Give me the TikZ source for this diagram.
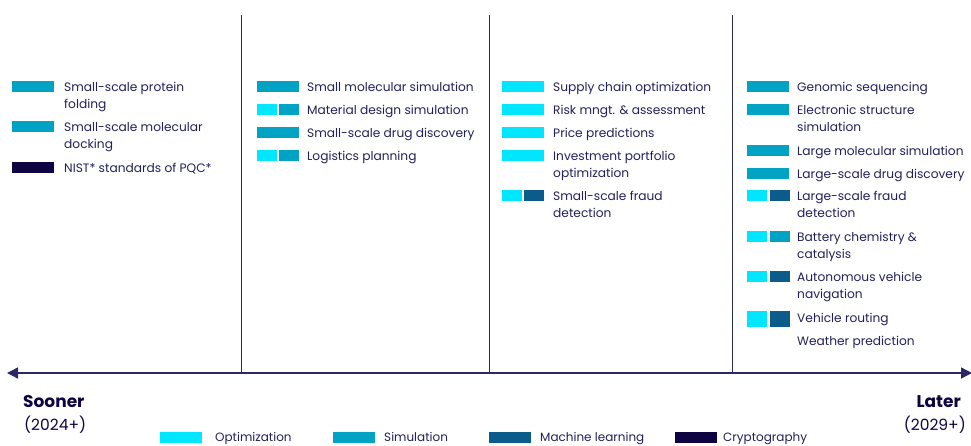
\documentclass[tikz,border=0pt]{standalone}
\usepackage{fontspec}
\setmainfont{Poppins}
\usetikzlibrary{arrows.meta}
\definecolor{optim}{HTML}{00E6FF}
\definecolor{simul}{HTML}{00A3C4}
\definecolor{mlearn}{HTML}{0B5C8A}
\definecolor{crypto}{HTML}{0E0442}
\definecolor{ink}{HTML}{22205A}
\definecolor{axisline}{HTML}{2C2868}

\begin{document}
\begin{tikzpicture}[
    x=1pt, y=-1pt,
    >={Triangle[length=11pt,width=11pt]},
    item/.style={anchor=north west, align=left, inner sep=0pt, text=ink, font=\fontsize{12.2}{16.8}\selectfont},
    swatch/.style={fill=#1, minimum width=42pt, minimum height=11pt, inner sep=0pt, anchor=west},
    half/.style={fill=#1, minimum width=20pt, minimum height=11pt, inner sep=0pt, anchor=west},
    keytext/.style={anchor=base west, inner sep=0pt, text=ink, font=\fontsize{12}{14}\selectfont},
    period/.style={inner sep=0pt, text=crypto, font=\fontsize{15.5}{18}\selectfont}
  ]
    \useasboundingbox[fill=white] (0,0) rectangle (971,445);

    % Time axis and column dividers
    \coordinate (t0) at (7,373);
    \coordinate (t1) at (972,373);
    \coordinate (v1) at (241,15);
    \coordinate (v2) at (489,15);
    \coordinate (v3) at (732,15);
    \draw[axisline, line width=1.4pt, <->] (t0) -- (t1);
    \draw[axisline, line width=0.8pt] (v1) -- (v1 |- t0);
    \draw[axisline, line width=0.8pt] (v2) -- (v2 |- t0);
    \draw[axisline, line width=0.8pt] (v3) -- (v3 |- t0);

    % Column 1
    \node[swatch=simul] (a1s) at (12,86.5) {};
    \node[item] (a1) at (64,82.3) {Small-scale protein\\folding};
    \node[swatch=simul] (a2s) at (12,126.5) {};
    \node[item] (a2) at (64,122.3) {Small-scale molecular\\docking};
    \node[swatch=crypto] (a3s) at (12,167.5) {};
    \node[item] (a3) at (64,163.3) {NIST* standards of PQC*};

    % Column 2
    \node[swatch=simul] (b1s) at (257,86.5) {};
    \node[item] (b1) at (307,82.3) {Small molecular simulation};
    \node[half=optim] (b2s) at (257,109.5) {};
    \node[half=simul] (b2t) at (279,109.5) {};
    \node[item] (b2) at (307,105.3) {Material design simulation};
    \node[swatch=simul] (b3s) at (257,132.5) {};
    \node[item] (b3) at (307,128.3) {Small-scale drug discovery};
    \node[half=optim] (b4s) at (257,155.5) {};
    \node[half=simul] (b4t) at (279,155.5) {};
    \node[item] (b4) at (307,151.3) {Logistics planning};

    % Column 3
    \node[swatch=optim] (c1s) at (502,86.5) {};
    \node[item] (c1) at (553,82.3) {Supply chain optimization};
    \node[swatch=optim] (c2s) at (502,109.5) {};
    \node[item] (c2) at (553,105.3) {Risk mngt. \& assessment};
    \node[swatch=optim] (c3s) at (502,132.5) {};
    \node[item] (c3) at (553,128.3) {Price predictions};
    \node[swatch=optim] (c4s) at (502,155.5) {};
    \node[item] (c4) at (553,151.3) {Investment portfolio\\optimization};
    \node[half=optim] (c5s) at (502,195.5) {};
    \node[half=mlearn] (c5t) at (524,195.5) {};
    \node[item] (c5) at (553,191.3) {Small-scale fraud\\detection};

    % Column 4
    \node[swatch=simul] (d1s) at (747,86.5) {};
    \node[item] (d1) at (797,82.3) {Genomic sequencing};
    \node[swatch=simul] (d2s) at (747,109.5) {};
    \node[item] (d2) at (797,105.3) {Electronic structure\\simulation};
    \node[swatch=simul] (d3s) at (747,150.5) {};
    \node[item] (d3) at (797,146.3) {Large molecular simulation};
    \node[swatch=simul] (d4s) at (747,173.5) {};
    \node[item] (d4) at (797,169.3) {Large-scale drug discovery};
    \node[half=optim] (d5s) at (747,195.5) {};
    \node[half=mlearn] (d5t) at (770,195.5) {};
    \node[item] (d5) at (797,191.3) {Large-scale fraud\\detection};
    \node[half=optim] (d6s) at (747,236.5) {};
    \node[half=simul] (d6t) at (770,236.5) {};
    \node[item] (d6) at (797,232.3) {Battery chemistry \&\\catalysis};
    \node[half=optim] (d7s) at (747,276.5) {};
    \node[half=mlearn] (d7t) at (770,276.5) {};
    \node[item] (d7) at (797,272.3) {Autonomous vehicle\\navigation};
    \node[half=optim, minimum height=16pt] (d8s) at (747,318.5) {};
    \node[half=mlearn, minimum height=16pt] (d8t) at (770,318.5) {};
    \node[item] (d8) at (797,313.3) {Vehicle routing};
    \node[item] (d9) at (797,336.3) {Weather prediction};

    % Axis ends
    \node[period, font=\fontsize{17}{20}\selectfont\bfseries, anchor=west] (soon) at (23,402) {Sooner};
    \node[period, anchor=west] (soonyr) at (24,425) {(2024+)};
    \node[period, font=\fontsize{17}{20}\selectfont\bfseries, anchor=east] (late) at (961,402) {Later};
    \node[period, anchor=east] (lateyr) at (966,425) {(2029+)};

    % Legend
    \node[swatch=optim] (k1) at (160,437.5) {};
    \node[keytext] (k1t) at (215,441.5) {Optimization};
    \node[swatch=simul] (k2) at (333,437.5) {};
    \node[keytext] (k2t) at (384,441.5) {Simulation};
    \node[swatch=mlearn] (k3) at (489,437.5) {};
    \node[keytext] (k3t) at (540,441.5) {Machine learning};
    \node[swatch=crypto] (k4) at (675,437.5) {};
    \node[keytext] (k4t) at (723,441.5) {Cryptography};
  \end{tikzpicture}
\end{document}
